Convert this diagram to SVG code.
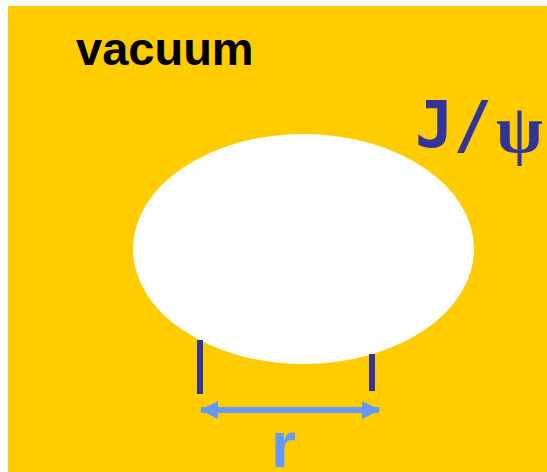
<svg xmlns="http://www.w3.org/2000/svg" width="547" height="472" viewBox="0 0 547 472">
<style>
.lbl{font-family:"Liberation Sans",Arial,sans-serif;font-weight:bold}
.tick{stroke:#333399;stroke-width:6;fill:none}
</style>
<defs>
<marker id="ah" viewBox="0 0 18 18" refX="17" refY="9" markerWidth="18" markerHeight="18" markerUnits="userSpaceOnUse" orient="auto-start-reverse">
<path d="M0,0 L18,9 L0,18 Z" fill="#6699FF"/>
</marker>
</defs>
<rect width="547" height="472" fill="#ffffff"/>
<rect x="8" y="6" width="539" height="466" fill="#FFCC00"/>
<g id="vacuum"><text class="lbl" x="76" y="65" font-size="47" fill="#000000">vacuum</text></g>
<g id="particle">
<ellipse cx="303.5" cy="249" rx="170.5" ry="115" fill="#ffffff"/>
</g>
<g id="jpsi">
<text x="415" y="147" font-family="'DejaVu Sans Mono',monospace" font-weight="bold" font-size="64" fill="#333399">J/</text>
<text x="496" y="152" font-family="'Liberation Serif','Times New Roman',serif" font-weight="bold" font-size="68" fill="#333399">ψ</text>
</g>
<g id="connectors">
<line class="tick" x1="200" y1="340" x2="200" y2="394"/>
<line class="tick" x1="372" y1="354" x2="372" y2="391"/>
<line x1="201" y1="410" x2="379" y2="410" stroke="#6699FF" stroke-width="6" marker-start="url(#ah)" marker-end="url(#ah)"/>
</g>
<g id="r"><text class="lbl" x="271" y="467" font-size="64" fill="#6699FF">r</text></g>
</svg>
